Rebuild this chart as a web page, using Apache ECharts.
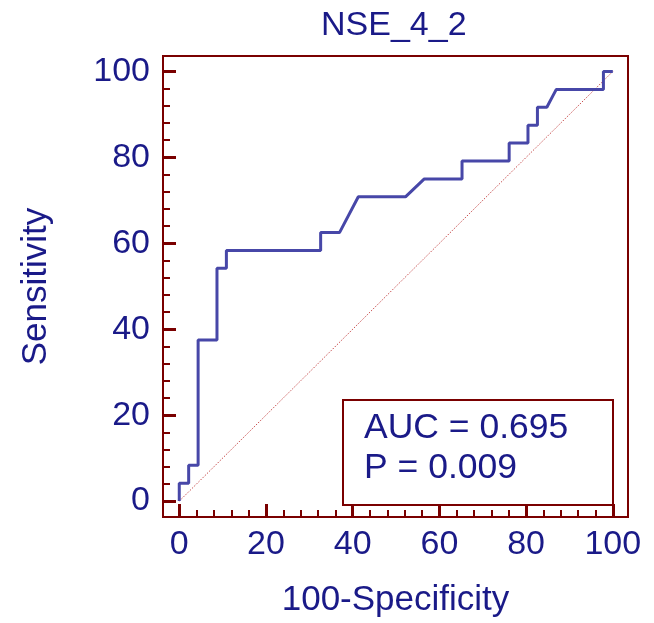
<!DOCTYPE html>
<html>
<head>
<meta charset="utf-8">
<script src="https://cdn.jsdelivr.net/npm/echarts@6/dist/echarts.min.js"></script>
<style>
html,body{margin:0;padding:0;background:#fff;}
#chart{width:654px;height:623px;}
</style>
</head>
<body>
<div id="chart"></div>
<script>
// ROC curve points (100-Specificity, Sensitivity)
const fpr = [0, 0, 2.17, 2.17, 4.35, 4.35, 8.70, 8.70, 10.87, 10.87, 32.61, 32.61, 36.96, 41.30, 52.17, 56.52, 65.22, 65.22, 76.09, 76.09, 80.43, 80.43, 82.61, 82.61, 84.78, 86.96, 97.83, 97.83, 100];
const tpr = [0, 4.17, 4.17, 8.33, 8.33, 37.5, 37.5, 54.17, 54.17, 58.33, 58.33, 62.5, 62.5, 70.83, 70.83, 75.0, 75.0, 79.17, 79.17, 83.33, 83.33, 87.5, 87.5, 91.67, 91.67, 95.83, 95.83, 100, 100];
const refX = [0, 100];
const refY = [0, 100];
const majorTicks = [0, 20, 40, 60, 80, 100];
const minorTicks = [4, 8, 12, 16, 24, 28, 32, 36, 44, 48, 52, 56, 64, 68, 72, 76, 84, 88, 92, 96];
const chartTitle = 'NSE_4_2';
const xName = '100-Specificity';
const yName = 'Sensitivity';
const statLines = ['AUC = 0.695', 'P = 0.009'];

const NAVY = '#1a1a88';
const MAROON = '#7a0000';
const FONT = 'Liberation Sans, Arial, sans-serif';
const FS = 34;
const FS_NAME = 35;

const chart = echarts.init(document.getElementById('chart'), null, {renderer: 'canvas'});

function xAxisDef(ticks, len, width, withLabels, withLine) {
  return {
    type: 'value', position: 'bottom', min: -3.75, max: 103.5,
    axisLine: {show: withLine, onZero: false, lineStyle: {color: MAROON, width: 2}},
    axisTick: {show: true, inside: true, length: len, customValues: ticks, lineStyle: {color: MAROON, width: width}},
    axisLabel: withLabels ? {show: true, customValues: ticks, color: NAVY, fontSize: FS, fontFamily: FONT, margin: 11} : {show: false},
    splitLine: {show: false},
    name: withLabels ? xName : '',
    nameLocation: 'middle', nameGap: 66,
    nameTextStyle: {color: NAVY, fontSize: FS_NAME, fontFamily: FONT}
  };
}
function yAxisDef(ticks, len, width, withLabels, withLine) {
  return {
    type: 'value', position: 'left', min: -3.7, max: 103.6,
    axisLine: {show: withLine, onZero: false, lineStyle: {color: MAROON, width: 2}},
    axisTick: {show: true, inside: true, length: len, customValues: ticks, lineStyle: {color: MAROON, width: width}},
    axisLabel: withLabels ? {show: true, customValues: ticks, color: NAVY, fontSize: FS, fontFamily: FONT, margin: 13} : {show: false},
    splitLine: {show: false},
    name: withLabels ? yName : '',
    nameLocation: 'middle', nameGap: 109, nameRotate: 90,
    nameTextStyle: {color: NAVY, fontSize: FS_NAME, fontFamily: FONT}
  };
}

const roc = fpr.map((x, i) => [x, tpr[i]]);
const ref = refX.map((x, i) => [x, refY[i]]);

chart.setOption({
  animation: false,
  backgroundColor: '#ffffff',
  grid: {left: 163, right: 26, top: 56, bottom: 102, show: true, borderColor: MAROON, borderWidth: 2, backgroundColor: 'transparent'},
  xAxis: [xAxisDef(majorTicks, 13, 3, true, true), xAxisDef(minorTicks, 7, 2, false, false)],
  yAxis: [yAxisDef(majorTicks, 13, 3, true, true), yAxisDef(minorTicks, 7, 2, false, false)],
  series: [
    {type: 'line', data: ref, xAxisIndex: 0, yAxisIndex: 0, symbol: 'none', silent: true,
     lineStyle: {color: '#c85050', width: 1, type: [1.5, 1.5]}, z: 2},
    {type: 'line', data: roc, xAxisIndex: 0, yAxisIndex: 0, symbol: 'none',
     lineStyle: {color: '#4747a8', width: 3}, z: 3}
  ],
  graphic: [
    {type: 'text', left: 395 - 74, top: 9, style: {text: chartTitle, fill: NAVY, font: FS + 'px ' + FONT}},
    {type: 'rect', shape: {x: 343, y: 400, width: 270, height: 105}, style: {fill: '#fff', stroke: MAROON, lineWidth: 2}, z: 10},
    {type: 'text', x: 364, y: 410, style: {text: statLines[0], fill: NAVY, font: '35.5px ' + FONT}, z: 11},
    {type: 'text', x: 364, y: 450, style: {text: statLines[1], fill: NAVY, font: '35.5px ' + FONT}, z: 11}
  ]
});
</script>
</body>
</html>
